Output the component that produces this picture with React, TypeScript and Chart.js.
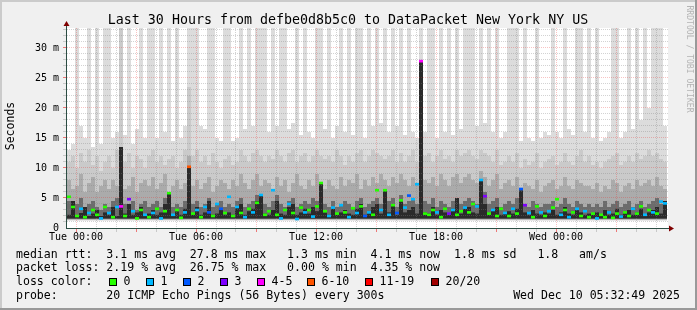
import React, { useEffect, useRef } from 'react';
import { Chart, registerables } from 'chart.js';

Chart.register(...registerables);

// ---- data (hours relative to Tue 00:00, values in milliseconds) ----
const startHour = -0.45;
const endHour = 29.55;
const stepHours = 0.2;
const yMax = 33.33;
const A = 34; // band runs past the top of the graph

const smokeTop1 = [
  13, 14, A, 17, 15, A, 13.5, A, 14, A,
  A, 15, 16, A, 15.5, A, 14, 16.5, A, 15,
  A, A, 15, A, 16, A, 14.5, A, 15, 17,
  A, A, A, 17, 16.5, A, A, 15, 14.5, A,
  A, 14.5, 15, A, 16.5, A, 17, A, A, A,
  16, A, 17, A, A, 16.5, 17.5, A, 15.5, A,
  16, 15, A, A, 16.5, A, 15, 17, A, 16,
  A, 15.5, A, A, 15, A, 17, A, 17.5, A,
  16, A, 17, A, 15.5, A, 16, 15, A, 16,
  A, A, 15, A, 16, A, 15.5, A, 16.5, A,
  A, A, 17, A, 17.5, A, 16, A, 15, 16,
  A, A, A, 14.5, A, 15, 14.5, A, 15, 16,
  15.5, A, 16, 15, A, 16.5, 15.5, A, A, 16,
  A, 15, A, 14.5, 15, 16, A, A, 15, 16,
  A, 16.5, A, 18, A, 20, A, A, A, 17,
];
const smokeTop2 = [
  11, 12, 10, 12.5, 11, 13, 10.5, 12, 9.5, 11,
  12, 10, 13, A, 11, 12.5, 10, 12, 11.5, 10,
  12, 13, 11, 12, 10.5, 11.5, 12, 10, 11, 13,
  23.5, 12, 13, 11, 12, 10.5, 12.5, 11, 10, 11.5,
  12, 10.5, 11, 13, 12, 11, 12.5, 13, 12, 11,
  12, 11.5, 13, 12, 11, 12.5, 13, 11, 12, 12.5,
  11, 12, 13, 12, 11.5, 12, 11, 13, 12, 10.5,
  12, 11, 12.5, 13, 11, 12, 13, 12.5, 12, 11.5,
  12, 13, 11, 12.5, 11, 12, 13, 11, 14, 12,
  12.5, 11, 12, 13, 11.5, 12, 11, 13, 12, 12.5,
  13, 12, 11.5, 13, 12.5, 12, 11, 13, 10.5, 11,
  12, 11, 12.5, 10, 11.5, 10.5, 11, 12.5, 10, 11,
  11.5, 12, 10.5, 11, 12.5, 11, 10.5, 12, 13, 11,
  12, 10.5, 11, 10, 11, 11.5, 12, 12.5, 10.5, 11,
  12, 11, 12.5, 11.5, 12, 13, 12, 12.5, 11.5, 11,
];
const smokeTop3 = [
  8, 6.5, 7, 9, 6, 7.5, 8.5, 6, 7, 8,
  6.5, 8, 7, 9.5, 6.5, 7, 8.5, 6, 7.5, 8,
  7, 8.5, 6.5, 7.5, 9, 6, 7, 8, 6.5, 7.5,
  12, 7, 8, 6.5, 7.5, 8.5, 6, 7, 8, 7.5,
  6.5, 8, 7, 9, 7.5, 6.5, 8, 9, 7, 8,
  7.5, 6.5, 8.5, 7, 8, 6, 7.5, 9, 7, 6.5,
  8, 7, 9, 7.5, 6.5, 8, 7, 6.5, 8.5, 7,
  8, 7.5, 9, 6.5, 8, 7, 8.5, 7.5, 9, 8,
  7, 8.5, 7.5, 9, 8, 7, 8.5, 7.5, 9.5, 8,
  7.5, 8.5, 7, 9, 8, 7, 8.5, 9, 7.5, 8.5,
  9, 8, 7.5, 9.5, 8.5, 7, 8, 9, 6.5, 7.5,
  8, 7, 8.5, 6.5, 7.5, 7, 6.5, 8, 6, 7,
  7.5, 8, 6.5, 7, 8.5, 7, 6.5, 8, 7.5, 7,
  7, 6.5, 7.5, 6, 7, 6.5, 8, 7.5, 6, 7,
  7.5, 6.5, 8, 7, 7.5, 8, 7, 8.5, 7, 6.5,
];
const smokeTop4 = [
  4.5, 3.5, 4, 5, 3.5, 4, 4.5, 3.5, 3, 4,
  3.5, 4.5, 5, 9, 4, 3.5, 4.5, 3, 4, 4.5,
  3.5, 4, 4.5, 3.5, 5, 5.5, 3.5, 4, 3.5, 4.5,
  10, 4, 4.5, 3.5, 4, 5, 3.5, 4, 4.5, 3.5,
  4, 3.5, 4.5, 5, 3.5, 4, 4.5, 5.5, 5, 4,
  3.5, 4.5, 5.5, 4, 3.5, 4.5, 5, 3.5, 4, 4.5,
  4, 5, 4.5, 6.5, 4, 3.5, 4.5, 3.5, 4, 4.5,
  4, 3.5, 4.5, 5, 3.5, 4, 4.5, 5, 4, 3.5,
  4.5, 5, 3.5, 5.5, 4, 4.5, 5, 4, 8, 4.5,
  4, 5, 3.5, 4.5, 4, 3.5, 4.5, 5, 4, 4.5,
  5, 4.5, 4, 7, 6, 4, 4.5, 5, 3.5, 4,
  4.5, 4, 5, 6, 4, 3.5, 4.5, 4, 3.5, 4,
  4, 4.5, 3.5, 4, 5, 4, 3.5, 4.5, 4, 3.5,
  4, 3.5, 4, 3.5, 4.5, 3.5, 4, 4.5, 3.5, 4,
  4.5, 3.5, 4, 4.5, 3.5, 4, 4.5, 5, 4, 4.5,
];
const smokeTop5 = [
  2.2, 4.5, 2, 2.5, 3.5, 2, 2.4, 3, 2, 2.6,
  2.2, 3.5, 2, 13.5, 2.4, 4, 2.2, 2.6, 3.5, 2,
  2.4, 3, 2.2, 2.6, 4, 5.8, 2.2, 2.8, 2.2, 3.2,
  10.2, 2.4, 3.5, 2.2, 2.6, 4.5, 2.2, 2.4, 3, 2.2,
  2.6, 2.2, 3.5, 4, 2.2, 2.8, 3.2, 4.5, 5.5, 2.4,
  2.2, 3, 4.5, 2.4, 2.2, 3.5, 4, 2.2, 2.6, 3.2,
  2.4, 3.5, 2.8, 7.5, 2.6, 2.2, 3.5, 2.4, 2.6, 3,
  2.4, 2.2, 3.2, 4, 2.2, 2.6, 3.5, 4, 2.4, 6.3,
  2.6, 4, 2.2, 4.5, 2.6, 3, 3.5, 2.4, 27.8, 2.6,
  2.4, 3.5, 2.2, 3, 2.6, 2.2, 3.2, 5, 2.4, 3.5,
  3.5, 2.6, 2.4, 8, 4, 2.4, 3, 3.5, 2.2, 2.6,
  2.8, 2.4, 3.2, 6.3, 2.6, 2.2, 3, 2.4, 2.2, 2.6,
  2.4, 3, 2.2, 2.6, 3.5, 2.4, 2.2, 3, 2.6, 2.2,
  2.4, 2.2, 2.6, 2.2, 3, 2.2, 2.4, 3.2, 2.2, 2.6,
  3, 2.2, 2.6, 3.2, 2.2, 2.6, 3, 3.5, 2.4, 4.5,
];
const medianRtt = [
  5.2, 3.5, 2, 3.2, 1.8, 2.5, 3, 2.2, 1.6, 3.5,
  2.5, 1.8, 3.5, 3.6, 2, 4.8, 2.8, 1.6, 3, 2.2,
  1.8, 2.5, 3.2, 1.6, 2.8, 5.8, 2.2, 3, 1.7, 2.6,
  10.2, 2.4, 3, 1.8, 3.5, 2.6, 2, 4, 3.2, 2.5,
  5.2, 2, 3.5, 2.5, 1.8, 3.2, 2.6, 4.2, 5.5, 2.2,
  2.8, 6.3, 2.2, 1.6, 3, 4, 2.5, 1.5, 3.4, 2.6,
  3, 1.9, 3.6, 7.5, 2.8, 2, 3.4, 2.4, 3.8, 2.6,
  1.8, 3.3, 2.5, 3.6, 2, 2.6, 2.2, 6.3, 3, 6.3,
  2.2, 3.8, 2.5, 4.6, 3.4, 5.4, 4.8, 7.3, 27.8, 2.4,
  2.2, 3, 2.6, 1.8, 3.2, 2.4, 3, 2.2, 2.8, 3.4,
  2.6, 4, 3.6, 8, 5.3, 2.4, 3, 2, 3.2, 2.5,
  2, 3.2, 2.4, 6.5, 3.8, 2.5, 1.8, 3.6, 2.6, 2,
  2.8, 3.4, 4.8, 2.2, 3, 1.8, 2.6, 3.2, 2, 2.8,
  1.8, 2.4, 1.6, 2.2, 1.8, 2.6, 1.7, 2.4, 1.9, 2.6,
  2, 3.2, 2.4, 3.6, 2.2, 3, 2.6, 2.4, 4.4, 4.1,
];
// index into lossColors
const lossIndex = [
  0, 0, 0, 1, 0, 1, 0, 0, 1, 0,
  1, 0, 1, 4, 0, 3, 1, 0, 0, 1,
  0, 1, 0, 1, 0, 0, 1, 0, 0, 1,
  5, 0, 1, 0, 1, 2, 0, 1, 2, 0,
  1, 0, 1, 0, 1, 0, 1, 0, 1, 0,
  0, 1, 0, 1, 0, 1, 0, 1, 0, 1,
  0, 1, 0, 0, 0, 1, 1, 0, 1, 0,
  1, 0, 1, 0, 2, 1, 0, 0, 1, 0,
  1, 0, 2, 0, 1, 2, 1, 1, 4, 0,
  0, 0, 1, 0, 0, 3, 1, 0, 0, 1,
  0, 0, 1, 1, 3, 0, 1, 0, 0, 1,
  0, 1, 0, 2, 3, 1, 0, 0, 1, 0,
  1, 0, 0, 1, 0, 1, 0, 1, 0, 1,
  0, 0, 1, 0, 0, 1, 0, 0, 1, 0,
  0, 1, 0, 0, 1, 0, 1, 0, 1, 1,
];
const bandFloor = [1.25, 1.3, 1.4, 1.5, 1.6];

const lossColors = ['#26ff00', '#00b8ff', '#0059ff', '#7e00ff', '#ff00ff', '#ff5500', '#ff0000', '#a10000'];
const lossLabels = ['0', '1', '2', '3', '4-5', '6-10', '11-19', '20/20'];

const xTickHours = [0, 6, 12, 18, 24];
const xTickLabels = ['Tue 00:00', 'Tue 06:00', 'Tue 12:00', 'Tue 18:00', 'Wed 00:00'];
const yTickValues = [0, 5, 10, 15, 20, 25, 30];
const yTickLabels = ['0', '5 m', '10 m', '15 m', '20 m', '25 m', '30 m'];

const titleText = 'Last 30 Hours from defbe0d8b5c0 to DataPacket New York NY US';
const yAxisTitle = 'Seconds';
const watermark = 'RRDTOOL / TOBI OETIKER';
const statsLines = [
  'median rtt:  3.1 ms avg  27.8 ms max   1.3 ms min  4.1 ms now  1.8 ms sd   1.8   am/s',
  'packet loss: 2.19 % avg  26.75 % max   0.00 % min  4.35 % now',
];
const lossColorLabel = 'loss color:';
const probeLine = 'probe:       20 ICMP Echo Pings (56 Bytes) every 300s';
const dateText = 'Wed Dec 10 05:32:49 2025';

// ---- styles / layout ----
const MONO = '"DejaVu Sans Mono", monospace';
const smokeShades = ['#dcdcdc', '#cacaca', '#ababab', '#6c6c6c', '#2a2a2a'];
const lossBoxX = [109, 146, 183, 220, 257, 307, 365, 431];

function drawGrid(chart: any) {
  const { ctx, chartArea: a, scales } = chart;
  const xs = scales.x;
  const ys = scales.y;
  ctx.save();
  ctx.lineWidth = 1;
  const minor = 'rgba(130,130,130,0.35)';
  const major = 'rgba(235,40,40,0.28)';
  const majorTick = 'rgba(235,40,40,0.6)';
  // horizontal
  for (let v = 1; v <= Math.floor(yMax); v++) {
    const py = Math.floor(ys.getPixelForValue(v)) + 0.5;
    const isMajor = v % 5 === 0;
    ctx.strokeStyle = isMajor ? major : minor;
    ctx.setLineDash([1, 1]);
    ctx.beginPath();
    ctx.moveTo(a.left, py);
    ctx.lineTo(a.right + 1, py);
    ctx.stroke();
    ctx.setLineDash([]);
    ctx.strokeStyle = isMajor ? majorTick : minor;
    ctx.beginPath();
    ctx.moveTo(a.left - 4, py);
    ctx.lineTo(a.left - 1, py);
    ctx.stroke();
  }
  // vertical
  for (let h = Math.ceil(startHour); h <= Math.floor(endHour); h++) {
    const px = Math.floor(xs.getPixelForValue(h)) + 0.5;
    const isMajor = h % 3 === 0;
    ctx.strokeStyle = isMajor ? major : minor;
    ctx.setLineDash([1, 1]);
    ctx.beginPath();
    ctx.moveTo(px, a.top);
    ctx.lineTo(px, a.bottom);
    ctx.stroke();
    ctx.setLineDash([]);
    ctx.strokeStyle = isMajor ? majorTick : minor;
    ctx.beginPath();
    ctx.moveTo(px, a.bottom + 1);
    ctx.lineTo(px, a.bottom + 4);
    ctx.stroke();
  }
  ctx.restore();
}

const smokePlugin = {
  id: 'smokepingFrame',
  beforeDraw(chart: any) {
    const { ctx, chartArea: a, width, height } = chart;
    ctx.save();
    ctx.fillStyle = '#f0f0f0';
    ctx.fillRect(0, 0, width, height);
    ctx.fillStyle = '#cbcbcb';
    ctx.fillRect(0, 0, width, 2);
    ctx.fillRect(0, 0, 2, height);
    ctx.fillStyle = '#999999';
    ctx.fillRect(0, height - 2, width, 2);
    ctx.fillRect(width - 2, 0, 2, height);
    ctx.fillStyle = '#ffffff';
    ctx.fillRect(a.left, a.top, a.right - a.left + 1, a.bottom - a.top);
    ctx.restore();
  },
  afterDatasetDraw(chart: any, args: any) {
    if (chart.data.datasets[args.index].label === 'smoke core') drawGrid(chart);
  },
  afterDraw(chart: any) {
    const { ctx, chartArea: a } = chart;
    ctx.save();
    // axes
    ctx.strokeStyle = '#2c4d43';
    ctx.lineWidth = 1;
    ctx.beginPath();
    ctx.moveTo(a.left - 0.5, a.bottom + 1);
    ctx.lineTo(a.left - 0.5, a.top - 3);
    ctx.moveTo(a.left - 1, a.bottom + 0.5);
    ctx.lineTo(a.right + 3, a.bottom + 0.5);
    ctx.stroke();
    ctx.fillStyle = '#7f0000';
    ctx.beginPath();
    ctx.moveTo(a.left - 0.5, a.top - 7);
    ctx.lineTo(a.left - 3.5, a.top - 2);
    ctx.lineTo(a.left + 2.5, a.top - 2);
    ctx.closePath();
    ctx.fill();
    ctx.beginPath();
    ctx.moveTo(a.right + 7, a.bottom + 0.5);
    ctx.lineTo(a.right + 2, a.bottom - 2.5);
    ctx.lineTo(a.right + 2, a.bottom + 3.5);
    ctx.closePath();
    ctx.fill();

    // title
    ctx.fillStyle = '#000000';
    ctx.font = `13.3px ${MONO}`;
    ctx.textAlign = 'center';
    ctx.textBaseline = 'alphabetic';
    ctx.fillText(titleText, 348, 24);

    // vertical axis title
    ctx.save();
    ctx.translate(11, (a.top + a.bottom) / 2 - 2);
    ctx.rotate(-Math.PI / 2);
    ctx.font = `11.5px ${MONO}`;
    ctx.textBaseline = 'middle';
    ctx.fillText(yAxisTitle, 0, 0);
    ctx.restore();

    // watermark
    ctx.save();
    ctx.translate(689, 59);
    ctx.rotate(Math.PI / 2);
    ctx.font = `8.1px ${MONO}`;
    ctx.fillStyle = '#b4b4b4';
    ctx.textBaseline = 'middle';
    ctx.fillText(watermark, 0, 0);
    ctx.restore();

    // legend / statistics
    ctx.font = `11.56px ${MONO}`;
    ctx.textAlign = 'left';
    ctx.textBaseline = 'alphabetic';
    ctx.fillStyle = '#000000';
    const base = [257.5, 271.4, 285.3, 299.2];
    ctx.fillText(statsLines[0], 16, base[0]);
    ctx.fillText(statsLines[1], 16, base[1]);
    ctx.fillText(lossColorLabel, 16, base[2]);
    lossLabels.forEach((lab, i) => {
      const bx = lossBoxX[i];
      ctx.fillStyle = lossColors[i];
      ctx.fillRect(bx, 278, 8, 8);
      ctx.strokeStyle = '#000000';
      ctx.lineWidth = 1;
      ctx.strokeRect(bx + 0.5, 278.5, 7, 7);
      ctx.fillStyle = '#000000';
      ctx.fillText(lab, bx + 14.5, base[2]);
    });
    ctx.fillText(probeLine, 16, base[3]);
    ctx.textAlign = 'right';
    ctx.fillText(dateText, 680, base[3]);
    ctx.restore();
  },
};

export default function App() {
  const ref = useRef<HTMLCanvasElement>(null);
  useEffect(() => {
    const canvas = ref.current;
    if (!canvas) return;
    const xs = medianRtt.map((_, i) => startHour + stepHours * (i + 0.5));
    const band = (tops: number[], floor: number) =>
      tops.map((t, i) => ({ x: xs[i], y: [floor, t] }));
    const tops = [smokeTop1, smokeTop2, smokeTop3, smokeTop4, smokeTop5];
    const names = ['smoke 1', 'smoke 2', 'smoke 3', 'smoke 4', 'smoke core'];
    const smokeSets = tops.map((t, b) => ({
      label: names[b],
      data: band(t, bandFloor[b]),
      backgroundColor: smokeShades[b],
      barThickness: 4,
      grouped: false,
      inflateAmount: 0,
      borderWidth: 0,
      order: 5 - b,
    }));
    const chart = new Chart(canvas, {
      type: 'bar',
      data: {
        datasets: [
          {
            label: 'median',
            data: medianRtt.map((m, i) => ({ x: xs[i], y: [m - 0.22, m + 0.22] })),
            backgroundColor: lossIndex.map((l) => lossColors[l]),
            barThickness: 4,
            grouped: false,
            inflateAmount: 0,
            borderWidth: 0,
            order: 0,
          } as any,
          ...(smokeSets as any[]),
        ],
      },
      options: {
        animation: false,
        responsive: false,
        devicePixelRatio: 1,
        events: [],
        layout: { padding: { left: 0, right: 30, top: 28, bottom: 62 } },
        plugins: {
          legend: { display: false },
          title: { display: false },
          tooltip: { enabled: false },
        },
        scales: {
          x: {
            type: 'linear',
            min: startHour,
            max: endHour,
            offset: false,
            grid: { display: false, drawTicks: false, offset: false },
            border: { display: false },
            afterBuildTicks: (axis: any) => {
              axis.ticks = xTickHours.map((v) => ({ value: v }));
            },
            afterFit: (axis: any) => {
              axis.height = 20;
            },
            ticks: {
              autoSkip: false,
              maxRotation: 0,
              minRotation: 0,
              padding: 3,
              color: '#000000',
              font: { family: MONO, size: 10 },
              callback: (_v: any, i: number) => xTickLabels[i],
            },
          },
          y: {
            type: 'linear',
            min: 0,
            max: yMax,
            grid: { display: false, drawTicks: false },
            border: { display: false },
            afterBuildTicks: (axis: any) => {
              axis.ticks = yTickValues.map((v) => ({ value: v }));
            },
            afterFit: (axis: any) => {
              axis.width = 67;
            },
            ticks: {
              autoSkip: false,
              padding: 8,
              color: '#000000',
              font: { family: MONO, size: 10 },
              callback: (_v: any, i: number) => yTickLabels[i],
            },
          },
        },
      } as any,
      plugins: [smokePlugin],
    });
    return () => chart.destroy();
  }, []);
  return (
    <div style={{ position: 'fixed', left: 0, top: 0, width: 697, height: 310 }}>
      <canvas ref={ref} width={697} height={310} style={{ display: 'block', width: 697, height: 310 }} />
    </div>
  );
}
